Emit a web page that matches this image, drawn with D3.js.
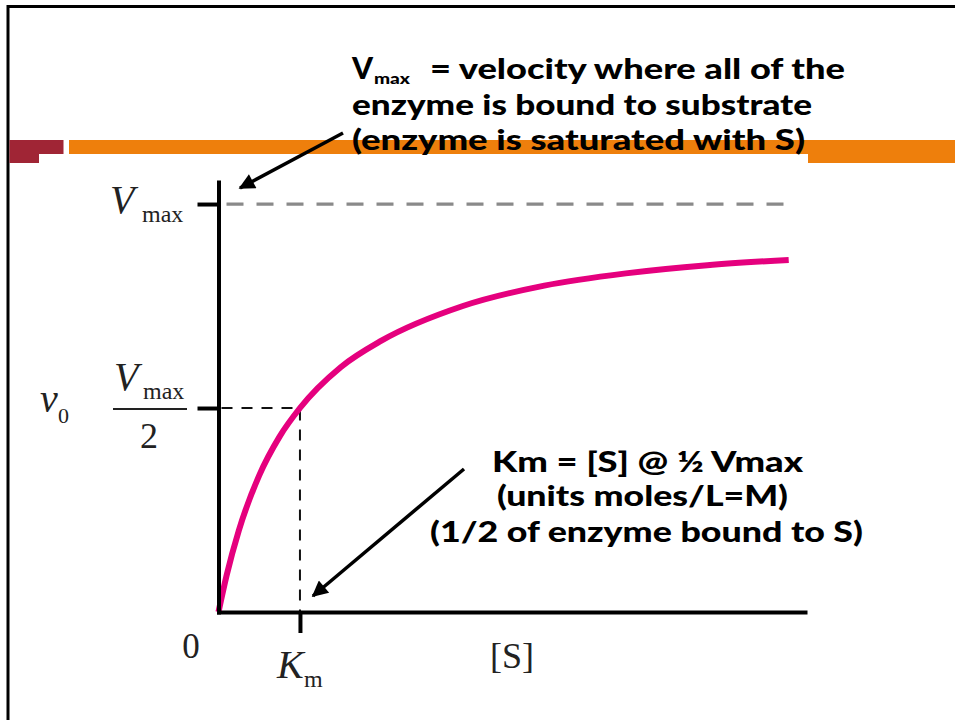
<!DOCTYPE html>
<html>
<head>
<meta charset="utf-8">
<script src="https://cdn.jsdelivr.net/npm/d3@7"></script>
<style>
  html, body { margin: 0; padding: 0; background: #fff; }
  svg { display: block; }
  .serif { font-family: "Liberation Serif", "DejaVu Serif", serif; fill: #222; }
  .note { font-family: "Comic Sans MS", "Lato", "Open Sans", sans-serif; font-weight: 900; fill: #000; }
</style>
</head>
<body>
<svg id="chart" width="955" height="720"></svg>
<script>
// Substrate concentration, in multiples of Km
const substrate = [0, 0.1, 0.25, 0.5, 0.75, 1, 1.5, 2, 3, 4, 5, 6, 7];
// Initial velocity v0, as a fraction of Vmax
const velocity = [0, 0.09, 0.2, 0.335, 0.43, 0.5, 0.6, 0.665, 0.75, 0.8, 0.83, 0.85, 0.863];
// Marked levels on the axes
const yTickValues = [1, 0.5];   // Vmax, Vmax/2
const xTickValues = [1];        // Km
const kmValue = 1;
const halfVmax = 0.5;
const vmaxValue = 1;

// Annotation lines
const vmaxNote = ["= velocity where all of the", "enzyme is bound to substrate", "(enzyme is saturated with S)"];
const kmNote = ["Km = [S] @ \u00BD Vmax", "(units moles/L=M)", "(1/2 of enzyme bound to S)"];

const svg = d3.select("#chart");

// Slide frame (top and left rules)
svg.append("path").attr("d", "M8,720V6.5H955").attr("fill", "none")
  .attr("stroke", "#000").attr("stroke-width", 3);

// Slide header band
svg.append("rect").attr("x", 9.5).attr("y", 140).attr("width", 54).attr("height", 14).attr("fill", "#a02535");
svg.append("rect").attr("x", 9.5).attr("y", 154).attr("width", 29.5).attr("height", 9).attr("fill", "#a02535");
svg.append("rect").attr("x", 69).attr("y", 140).attr("width", 886).attr("height", 14).attr("fill", "#ee7f0c");
svg.append("rect").attr("x", 808).attr("y", 154).attr("width", 147).attr("height", 9).attr("fill", "#ee7f0c");

// Scales
const x = d3.scaleLinear().domain([0, 7.2]).range([218.5, 805]);
const y = d3.scaleLinear().domain([0, 1.054]).range([612, 182]);

// Vmax reference line
svg.append("line")
  .attr("x1", x(0) + 8).attr("x2", x(6.97))
  .attr("y1", y(vmaxValue)).attr("y2", y(vmaxValue))
  .attr("stroke", "#8a8a8a").attr("stroke-width", 3.2)
  .attr("stroke-dasharray", "17,13");

// Km guide lines
svg.append("path")
  .attr("d", `M${x(0) + 3},${y(halfVmax)}H${x(kmValue)}V${y(0)}`)
  .attr("fill", "none").attr("stroke", "#111").attr("stroke-width", 2)
  .attr("stroke-dasharray", "11,9");

// Saturation curve
svg.append("path")
  .datum(substrate.map((s, i) => [s, velocity[i]]))
  .attr("d", d3.line().x(d => x(d[0])).y(d => y(d[1])).curve(d3.curveMonotoneX))
  .attr("fill", "none").attr("stroke", "#e5007e").attr("stroke-width", 6)
  .attr("stroke-linecap", "butt");

// Axes
const yAxis = svg.append("g").attr("transform", `translate(${x(0)},0)`)
  .call(d3.axisLeft(y).tickValues(yTickValues).tickSize(21).tickSizeOuter(0).tickFormat(""));
const xAxis = svg.append("g").attr("transform", `translate(0,${y(0)})`)
  .call(d3.axisBottom(x).tickValues(xTickValues).tickSize(21).tickSizeOuter(0).tickFormat(""));
[yAxis, xAxis].forEach(g => {
  g.select(".domain").attr("stroke", "#000").attr("stroke-width", 4).attr("stroke-linecap", "square");
  g.selectAll(".tick line").attr("stroke", "#000").attr("stroke-width", 4);
});

// Axis labels
const yV = y(vmaxValue), yH = y(halfVmax);
svg.append("text").attr("class", "serif").attr("x", 110).attr("y", yV + 9)
  .attr("font-size", 40).attr("font-style", "italic").text("V");
svg.append("text").attr("class", "serif").attr("x", 142).attr("y", yV + 18)
  .attr("font-size", 24).text("max");

svg.append("text").attr("class", "serif").attr("x", 114).attr("y", yH - 18)
  .attr("font-size", 40).attr("font-style", "italic").text("V");
svg.append("text").attr("class", "serif").attr("x", 143).attr("y", yH - 9)
  .attr("font-size", 24).text("max");
svg.append("line").attr("x1", 113).attr("x2", 187).attr("y1", yH + 1).attr("y2", yH + 1)
  .attr("stroke", "#222").attr("stroke-width", 2);
svg.append("text").attr("class", "serif").attr("x", 149).attr("y", yH + 40)
  .attr("font-size", 36).attr("text-anchor", "middle").text("2");

svg.append("text").attr("class", "serif").attr("x", 40).attr("y", yH + 4)
  .attr("font-size", 40).attr("font-style", "italic").text("v");
svg.append("text").attr("class", "serif").attr("x", 58).attr("y", yH + 15)
  .attr("font-size", 22).text("0");

svg.append("text").attr("class", "serif").attr("x", 191).attr("y", y(0) + 46)
  .attr("font-size", 35).attr("text-anchor", "middle").text("0");
svg.append("text").attr("class", "serif").attr("x", x(kmValue) - 23).attr("y", y(0) + 66)
  .attr("font-size", 40).attr("font-style", "italic").text("K");
svg.append("text").attr("class", "serif").attr("x", x(kmValue) + 4).attr("y", y(0) + 75)
  .attr("font-size", 24).text("m");
svg.append("text").attr("class", "serif").attr("x", 512).attr("y", y(0) + 56)
  .attr("font-size", 36).attr("text-anchor", "middle").text("[S]");

// Arrowhead
svg.append("defs").append("marker")
  .attr("id", "head").attr("viewBox", "0 0 10 10").attr("refX", 9).attr("refY", 5)
  .attr("markerUnits", "userSpaceOnUse").attr("markerWidth", 20).attr("markerHeight", 16)
  .attr("orient", "auto")
  .append("path").attr("d", "M0,0L10,5L0,10Z").attr("fill", "#000");

svg.append("line").attr("x1", 343).attr("y1", 133).attr("x2", 240).attr("y2", 188)
  .attr("stroke", "#000").attr("stroke-width", 3.5).attr("marker-end", "url(#head)");
svg.append("line").attr("x1", 464).attr("y1", 469).attr("x2", x(kmValue) + 13).attr("y2", 596)
  .attr("stroke", "#000").attr("stroke-width", 3.5).attr("marker-end", "url(#head)");

// Vmax note
svg.append("text").attr("class", "note").attr("x", 352).attr("y", 79)
  .attr("font-size", 30).text("V");
svg.append("text").attr("class", "note").attr("x", 374).attr("y", 84)
  .attr("font-size", 15).attr("textLength", 36).attr("lengthAdjust", "spacingAndGlyphs").text("max");
const vmaxSpans = [[430, 79, 415], [352, 115, 460], [352, 150, 453]];
vmaxNote.forEach((t, i) => {
  const [tx, ty, w] = vmaxSpans[i];
  svg.append("text").attr("class", "note").attr("x", tx).attr("y", ty)
    .attr("font-size", 29).attr("textLength", w).attr("lengthAdjust", "spacingAndGlyphs").text(t);
});

// Km note
const kmSpans = [[492, 472, 311], [497, 506, 291], [430, 542, 433]];
kmNote.forEach((t, i) => {
  const [tx, ty, w] = kmSpans[i];
  svg.append("text").attr("class", "note").attr("x", tx).attr("y", ty)
    .attr("font-size", 28).attr("textLength", w).attr("lengthAdjust", "spacingAndGlyphs").text(t);
});
</script>
</body>
</html>
